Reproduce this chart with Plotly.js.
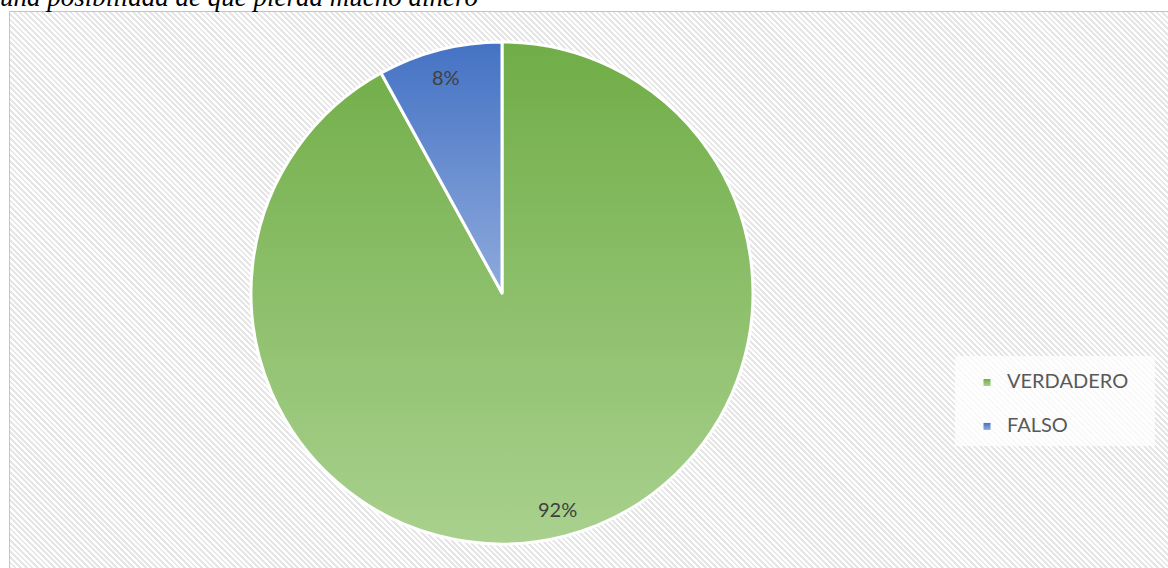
<!DOCTYPE html>
<html>
<head>
<meta charset="utf-8">
<script src="https://cdn.plot.ly/plotly-3.0.1.min.js"></script>
<style>
  html, body { margin: 0; padding: 0; background: #ffffff; }
  #wrap { position: relative; width: 1168px; height: 568px; overflow: hidden; }
  #bg {
    position: absolute; left: 9px; top: 11px; width: 1200px; height: 600px;
    border-left: 1.5px solid #c4c4c4; border-top: 1.5px solid #c4c4c4;
    background: repeating-linear-gradient(45deg, #ffffff 0px, #ffffff 2px, #e6e6e6 2px, #e6e6e6 4px);
  }
  #legbox { position: absolute; left: 955px; top: 356px; width: 200px; height: 90px; background: rgba(255,255,255,0.75); }
  #chart { position: absolute; left: 0; top: 0; width: 1168px; height: 568px; }
</style>
</head>
<body>
<div id="wrap">
  <div id="bg"></div>
  <div id="legbox"></div>
  <div id="chart"></div>
</div>
<script>
const titleText = "una posibilidad de que pierda mucho dinero";
const categories = ["VERDADERO", "FALSO"];
const values = [92, 8];
const labels = ["92%", "8%"];
const colorsTop = ["#70AD47", "#4472C4"];
const colorsBottom = ["#A9D18E", "#8FAADC"];

const W = 1168, H = 568;
const cx = 502, cyTop = 293, R = 251;
const cyBottom = H - cyTop;

const total = values.reduce((a, b) => a + b, 0);
let acc = 0;
const annotations = [];
values.forEach((v, i) => {
  const mid = (acc + v / 2) / total * 2 * Math.PI;
  acc += v;
  const r = 0.89 * R;
  annotations.push({
    x: (cx + r * Math.sin(mid)) / W,
    y: (cyBottom + r * Math.cos(mid)) / H,
    xref: "paper", yref: "paper", showarrow: false,
    text: labels[i],
    font: { family: "Lato, 'Open Sans', sans-serif", size: 20, color: "#404040" },
    xanchor: "center", yanchor: "middle"
  });
});
annotations.push({
  x: 0, y: 1 + 3 / H, xref: "paper", yref: "paper", showarrow: false,
  xanchor: "left", yanchor: "middle", xshift: -2,
  text: "<i>" + titleText + "</i>",
  font: { family: "'Liberation Serif', 'Times New Roman', serif", size: 27, color: "#000000" }
});

const trace = {
  type: "pie",
  labels: categories.map(c => '<span style="font-size:20px">' + c + '</span>'),
  values: values,
  sort: false,
  direction: "clockwise",
  rotation: 0,
  textinfo: "none",
  hoverinfo: "label+percent",
  marker: { colors: colorsTop, line: { color: "#ffffff", width: 3 } },
  domain: { x: [(cx - R) / W, (cx + R) / W], y: [(cyBottom - R) / H, (cyBottom + R) / H] }
};

const layout = {
  width: W, height: H,
  margin: { l: 0, r: 0, t: 0, b: 0 },
  paper_bgcolor: "rgba(0,0,0,0)",
  plot_bgcolor: "rgba(0,0,0,0)",
  showlegend: true,
  legend: {
    x: 967 / W, y: 1 - 349 / H, xanchor: "left", yanchor: "top",
    bgcolor: "rgba(0,0,0,0)",
    font: { family: "Lato, 'Open Sans', sans-serif", size: 31.5, color: "#595959" },
    itemwidth: 30, tracegroupgap: 0
  },
  annotations: annotations
};

Plotly.newPlot("chart", [trace], layout, { displayModeBar: false, staticPlot: true }).then(gd => {
  const svg = gd.querySelector("svg.main-svg");
  const ns = "http://www.w3.org/2000/svg";
  let defs = svg.querySelector("defs");
  if (!defs) { defs = document.createElementNS(ns, "defs"); svg.insertBefore(defs, svg.firstChild); }
  const mk = (id, c1, c2) => {
    const g = document.createElementNS(ns, "linearGradient");
    g.setAttribute("id", id);
    g.setAttribute("x1", "0"); g.setAttribute("y1", "0");
    g.setAttribute("x2", "0"); g.setAttribute("y2", "1");
    [[0, c1], [1, c2]].forEach(([o, c]) => {
      const s = document.createElementNS(ns, "stop");
      s.setAttribute("offset", o); s.setAttribute("stop-color", c);
      g.appendChild(s);
    });
    defs.appendChild(g);
  };
  categories.forEach((c, i) => mk("grad" + i, colorsTop[i], colorsBottom[i]));
  gd.querySelectorAll(".slice path.surface").forEach((p, i) => {
    p.style.fill = "url(#grad" + i + ")";
  });
  gd.querySelectorAll(".legend .traces").forEach((t, i) => {
    const pt = t.querySelector("path.legendpie");
    if (pt) {
      pt.style.fill = "url(#grad" + i + ")";
      pt.style.strokeWidth = "0";
      pt.setAttribute("d", "M3.5,3.5H-3.5V-3.5H3.5Z");
    }
    const lp = t.querySelector(".legendpoints");
    if (lp) lp.setAttribute("transform", "translate(0,6.5)");
  });
});
</script>
</body>
</html>
